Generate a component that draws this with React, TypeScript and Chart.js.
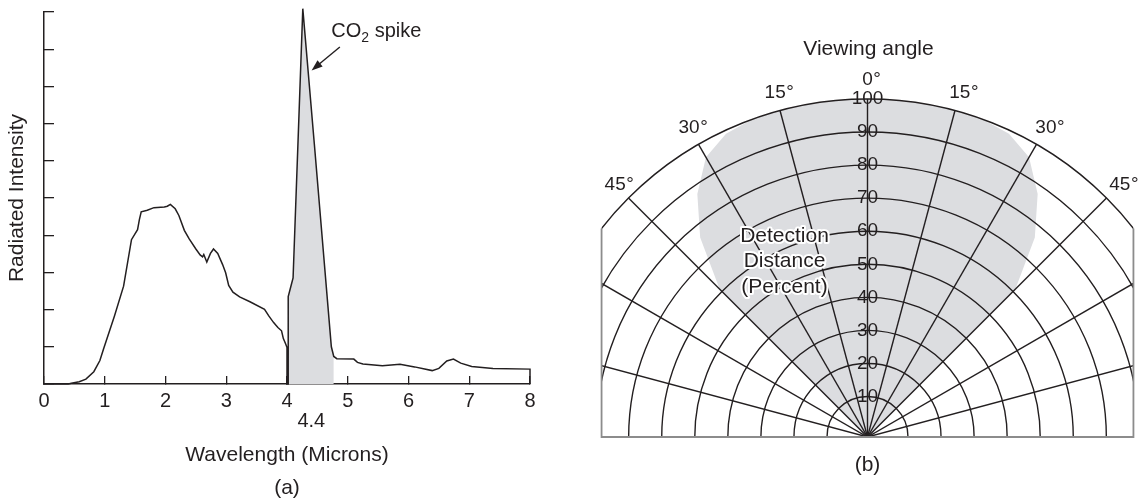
import React, { useEffect, useRef } from 'react';
import { Chart, registerables } from 'chart.js';

Chart.register(...registerables);

const FONT = '"Liberation Sans", Arial, Helvetica, sans-serif';
const INK = '#231f20';
const SHADE = '#dcdde0';
const FRAME = '#8c8c8c';

// ---------------- (a) Radiated intensity spectrum ----------------
const wavelength = [
  0, 0.4, 0.45, 0.58, 0.69, 0.82, 0.92, 0.98, 1.16, 1.31,
  1.44, 1.5, 1.54, 1.57, 1.6, 1.7, 1.81, 1.98, 2.03, 2.08,
  2.16, 2.22, 2.31, 2.39, 2.5, 2.57, 2.61, 2.63, 2.68, 2.74,
  2.79, 2.86, 2.94, 2.99, 3.04, 3.11, 3.22, 3.39, 3.63, 3.7,
  3.78, 3.85, 3.91, 3.94, 3.98, 4.0, 4.0, 4.02, 4.02, 4.06,
  4.1, 4.18, 4.26, 4.45, 4.73, 4.77, 4.82, 5.1, 5.16, 5.25,
  5.57, 5.86, 6.1, 6.39, 6.5, 6.63, 6.74, 6.86, 7.04, 7.39,
  8.0, 8.0,
];
const intensity = [
  0, 0, 0.02, 0.06, 0.13, 0.33, 0.63, 0.94, 1.83, 2.63,
  3.88, 4.04, 4.15, 4.42, 4.63, 4.67, 4.74, 4.76, 4.78, 4.83,
  4.71, 4.53, 4.13, 3.9, 3.63, 3.47, 3.42, 3.48, 3.28, 3.51,
  3.63, 3.51, 3.21, 2.99, 2.65, 2.47, 2.34, 2.21, 2.01, 1.83,
  1.65, 1.52, 1.43, 1.22, 1.07, 0.98, 0, 0, 2.35, 2.6,
  2.85, 6.45, 10.09, 6.45, 1.0, 0.74, 0.68, 0.67, 0.58, 0.54,
  0.49, 0.53, 0.46, 0.36, 0.42, 0.62, 0.67, 0.56, 0.47, 0.42,
  0.4, 0,
];
const spikeRange = [4.02, 4.77];
const xTickValues = [0, 1, 2, 3, 4, 4.4, 5, 6, 7, 8];
const spikeLabelAt = [4.73, 9.47];
const arrowFrom = [4.87, 9.06];
const arrowTo = [4.405, 8.43];

// ---------------- (b) Detection pattern ----------------
const viewingAngle = [
  0, 5, 10, 15, 20, 25, 30, 35, 40, 45, 50, 55, 60, 65, 70, 75, 80, 85,
  90, 95, 100, 105, 110, 115, 120, 125, 130, 135, 140, 145, 150, 155, 160, 165, 170, 175,
  180, 185, 190, 195, 200, 205, 210, 215, 220, 225, 230, 235, 240, 245, 250, 255, 260, 265,
  270, 275, 280, 285, 290, 295, 300, 305, 310, 315, 320, 325, 330, 335, 340, 345, 350, 355,
];
const detectionDistance = [
  100, 100, 100, 100, 100, 99, 95.5, 87.5, 76.5, 61, 0, 0, 0, 0, 0, 0, 0, 0,
  0, 0, 0, 0, 0, 0, 0, 0, 0, 0, 0, 0, 0, 0, 0, 0, 0, 0,
  0, 0, 0, 0, 0, 0, 0, 0, 0, 0, 0, 0, 0, 0, 0, 0, 0, 0,
  0, 0, 0, 0, 0, 0, 0, 0, 0, 61, 76.5, 87.5, 95.5, 99, 100, 100, 100, 100,
];
const distanceTicks = [10, 20, 30, 40, 50, 60, 70, 80, 90, 100];
const labelledAngles = [-45, -30, -15, 0, 15, 30, 45];
const spokeEvery = 15;
const frameHalfWidth = 78.2;
const angleLabelRadius = 105.7;

export default function App() {
  const leftRef = useRef<HTMLCanvasElement>(null);
  const rightRef = useRef<HTMLCanvasElement>(null);

  useEffect(() => {
    Chart.defaults.font.family = FONT;
    Chart.defaults.color = INK;

    const curve = wavelength.map((x, i) => ({ x, y: intensity[i] }));
    const spike = curve.filter((p) => p.x >= spikeRange[0] && p.x <= spikeRange[1]);

    const spikeNote = {
      id: 'spikeNote',
      afterDraw(chart: any) {
        const { ctx } = chart;
        const xs = chart.scales.x;
        const ys = chart.scales.y;
        const x0 = xs.getPixelForValue(arrowFrom[0]);
        const y0 = ys.getPixelForValue(arrowFrom[1]);
        const x1 = xs.getPixelForValue(arrowTo[0]);
        const y1 = ys.getPixelForValue(arrowTo[1]);
        const ang = Math.atan2(y1 - y0, x1 - x0);
        const head = 11;
        const hw = 4;
        ctx.save();
        ctx.strokeStyle = INK;
        ctx.fillStyle = INK;
        ctx.lineWidth = 1.4;
        ctx.beginPath();
        ctx.moveTo(x0, y0);
        ctx.lineTo(x1 - Math.cos(ang) * head * 0.8, y1 - Math.sin(ang) * head * 0.8);
        ctx.stroke();
        ctx.beginPath();
        ctx.moveTo(x1, y1);
        ctx.lineTo(
          x1 - Math.cos(ang) * head + Math.sin(ang) * hw,
          y1 - Math.sin(ang) * head - Math.cos(ang) * hw
        );
        ctx.lineTo(
          x1 - Math.cos(ang) * head - Math.sin(ang) * hw,
          y1 - Math.sin(ang) * head + Math.cos(ang) * hw
        );
        ctx.closePath();
        ctx.fill();

        let tx = xs.getPixelForValue(spikeLabelAt[0]);
        const ty = ys.getPixelForValue(spikeLabelAt[1]);
        ctx.textAlign = 'left';
        ctx.textBaseline = 'middle';
        ctx.font = `20px ${FONT}`;
        ctx.fillText('CO', tx, ty);
        tx += ctx.measureText('CO').width;
        ctx.font = `14px ${FONT}`;
        ctx.fillText('2', tx, ty + 6);
        tx += ctx.measureText('2').width;
        ctx.font = `20px ${FONT}`;
        ctx.fillText(' spike', tx, ty);
        ctx.restore();
      },
    };

    const left = new Chart(leftRef.current as HTMLCanvasElement, {
      type: 'scatter',
      data: {
        datasets: [
          {
            label: 'Radiated intensity',
            data: curve,
            showLine: true,
            borderColor: INK,
            borderWidth: 1.5,
            pointRadius: 0,
            fill: false,
            tension: 0,
            clip: false,
          } as any,
          {
            label: 'CO2 spike',
            data: spike,
            showLine: true,
            borderColor: 'rgba(0,0,0,0)',
            borderWidth: 0,
            backgroundColor: SHADE,
            pointRadius: 0,
            fill: 'origin',
            tension: 0,
            clip: false,
          } as any,
        ],
      },
      options: {
        animation: false,
        responsive: false,
        maintainAspectRatio: false,
        layout: { padding: { top: 12, right: 30, left: 0, bottom: 0 } },
        plugins: { legend: { display: false }, tooltip: { enabled: false } },
        scales: {
          x: {
            type: 'linear',
            min: 0,
            max: 8,
            afterBuildTicks: (s: any) => {
              s.ticks = xTickValues.map((v) => ({ value: v }));
            },
            afterFit: (s: any) => {
              s.height = 117;
            },
            grid: {
              drawOnChartArea: false,
              drawTicks: true,
              tickLength: -8,
              color: INK,
              lineWidth: 1.3,
              tickColor: (c: any) =>
                c.tick && Math.abs(c.tick.value - 4.4) < 1e-9 ? 'rgba(0,0,0,0)' : INK,
            },
            border: { display: true, color: INK, width: 1.5 },
            ticks: {
              autoSkip: false,
              maxRotation: 0,
              minRotation: 0,
              padding: 16,
              color: INK,
              font: { size: 20, family: FONT, lineHeight: '19.4px' },
              callback: (v: any) => (Math.abs(Number(v) - 4.4) < 1e-9 ? ['', '4.4'] : String(v)),
            },
            title: {
              display: true,
              text: ['Wavelength (Microns)', '(a)'],
              color: INK,
              font: { size: 21, family: FONT, lineHeight: '33px' },
              padding: { top: 0, bottom: -3.5 },
            },
          } as any,
          y: {
            type: 'linear',
            min: 0,
            max: 10,
            afterFit: (s: any) => {
              s.width = 44;
            },
            grid: {
              drawOnChartArea: false,
              drawTicks: true,
              tickLength: -10,
              color: INK,
              lineWidth: 1.3,
            },
            border: { display: true, color: INK, width: 1.5 },
            ticks: { stepSize: 1, display: false },
            title: {
              display: true,
              text: 'Radiated Intensity',
              color: INK,
              font: { size: 21, family: FONT, lineHeight: 1.2 },
              padding: { top: 4.4, bottom: 0 },
            },
          } as any,
        },
      },
      plugins: [spikeNote],
    });

    const polarFrame = {
      id: 'polarFrame',
      beforeDraw(chart: any) {
        const r = chart.scales.r;
        const ctx = chart.ctx;
        const half = r.getDistanceFromCenterForValue(frameHalfWidth);
        ctx.save();
        ctx.beginPath();
        ctx.rect(r.xCenter - half, 0, half * 2, r.yCenter);
        ctx.clip();
      },
      afterDraw(chart: any) {
        const r = chart.scales.r;
        const ctx = chart.ctx;
        ctx.restore();
        const half = r.getDistanceFromCenterForValue(frameHalfWidth);
        const outer = r.getDistanceFromCenterForValue(100);
        const edgeTop = r.yCenter - Math.sqrt(outer * outer - half * half);
        ctx.save();
        ctx.strokeStyle = FRAME;
        ctx.lineWidth = 1.8;
        ctx.beginPath();
        ctx.moveTo(r.xCenter - half, edgeTop);
        ctx.lineTo(r.xCenter - half, r.yCenter);
        ctx.lineTo(r.xCenter + half, r.yCenter);
        ctx.lineTo(r.xCenter + half, edgeTop);
        ctx.stroke();

        // degree labels
        ctx.fillStyle = INK;
        ctx.textBaseline = 'middle';
        ctx.font = `19px ${FONT}`;
        const dist = r.getDistanceFromCenterForValue(angleLabelRadius);
        labelledAngles.forEach((a) => {
          const idx = viewingAngle.indexOf((a + 360) % 360);
          const p = r.getPointPosition(idx, dist);
          const num = String(Math.abs(a));
          const w = ctx.measureText(num).width;
          ctx.textAlign = 'center';
          ctx.fillText(num, p.x, p.y);
          ctx.textAlign = 'left';
          ctx.fillText('°', p.x + w / 2 + 0.5, p.y);
        });

        // titles
        ctx.textAlign = 'center';
        ctx.font = `21px ${FONT}`;
        ctx.fillText('Viewing angle', r.xCenter + 1, 49);
        ctx.fillText('(b)', r.xCenter, 465);

        // inner label with white halo
        const lines = ['Detection', 'Distance', '(Percent)'];
        const lx = r.xCenter - 83;
        const ly = [236.7, 261.7, 287.3];
        ctx.lineJoin = 'round';
        ctx.lineWidth = 4;
        ctx.strokeStyle = '#ffffff';
        lines.forEach((t, i) => ctx.strokeText(t, lx, ly[i]));
        ctx.fillStyle = INK;
        lines.forEach((t, i) => ctx.fillText(t, lx, ly[i]));
        ctx.restore();
      },
    };

    const right = new Chart(rightRef.current as HTMLCanvasElement, {
      type: 'radar',
      data: {
        labels: viewingAngle.map((a) => String(a)),
        datasets: [
          {
            label: 'Detection distance',
            data: detectionDistance,
            backgroundColor: SHADE,
            borderColor: 'rgba(0,0,0,0)',
            borderWidth: 0,
            pointRadius: 0,
            fill: 'start',
            tension: 0,
          } as any,
        ],
      },
      options: {
        animation: false,
        responsive: false,
        maintainAspectRatio: false,
        layout: { padding: 0 },
        plugins: { legend: { display: false }, tooltip: { enabled: false } },
        scales: {
          r: {
            min: -2.25,
            max: 100,
            startAngle: 0,
            afterBuildTicks: (s: any) => {
              s.ticks = distanceTicks.map((v) => ({ value: v }));
            },
            afterFit: (s: any) => {
              s.xCenter = 307.5;
              s.yCenter = 437;
              s.drawingArea = 338;
            },
            grid: { circular: true, color: INK, lineWidth: 1.4, z: 2 },
            angleLines: {
              display: true,
              color: INK,
              lineWidth: (c: any) => {
                const a = viewingAngle[c.index];
                return a % spokeEvery === 0 && a !== 90 && a !== 270 ? 1.4 : 0;
              },
            },
            pointLabels: { display: false },
            ticks: {
              display: true,
              showLabelBackdrop: false,
              color: INK,
              font: { size: 19, family: FONT },
              callback: (v: any) => String(v),
              z: 1,
            },
          } as any,
        },
      },
      plugins: [polarFrame],
    });

    return () => {
      left.destroy();
      right.destroy();
    };
  }, []);

  return (
    <div
      style={{
        position: 'absolute',
        left: 0,
        top: 0,
        width: 1143,
        height: 501,
        overflow: 'hidden',
        background: '#ffffff',
      }}
    >
      <canvas ref={leftRef} width={560} height={501} style={{ position: 'absolute', left: 0, top: 0 }} />
      <canvas ref={rightRef} width={583} height={501} style={{ position: 'absolute', left: 560, top: 0 }} />
    </div>
  );
}
